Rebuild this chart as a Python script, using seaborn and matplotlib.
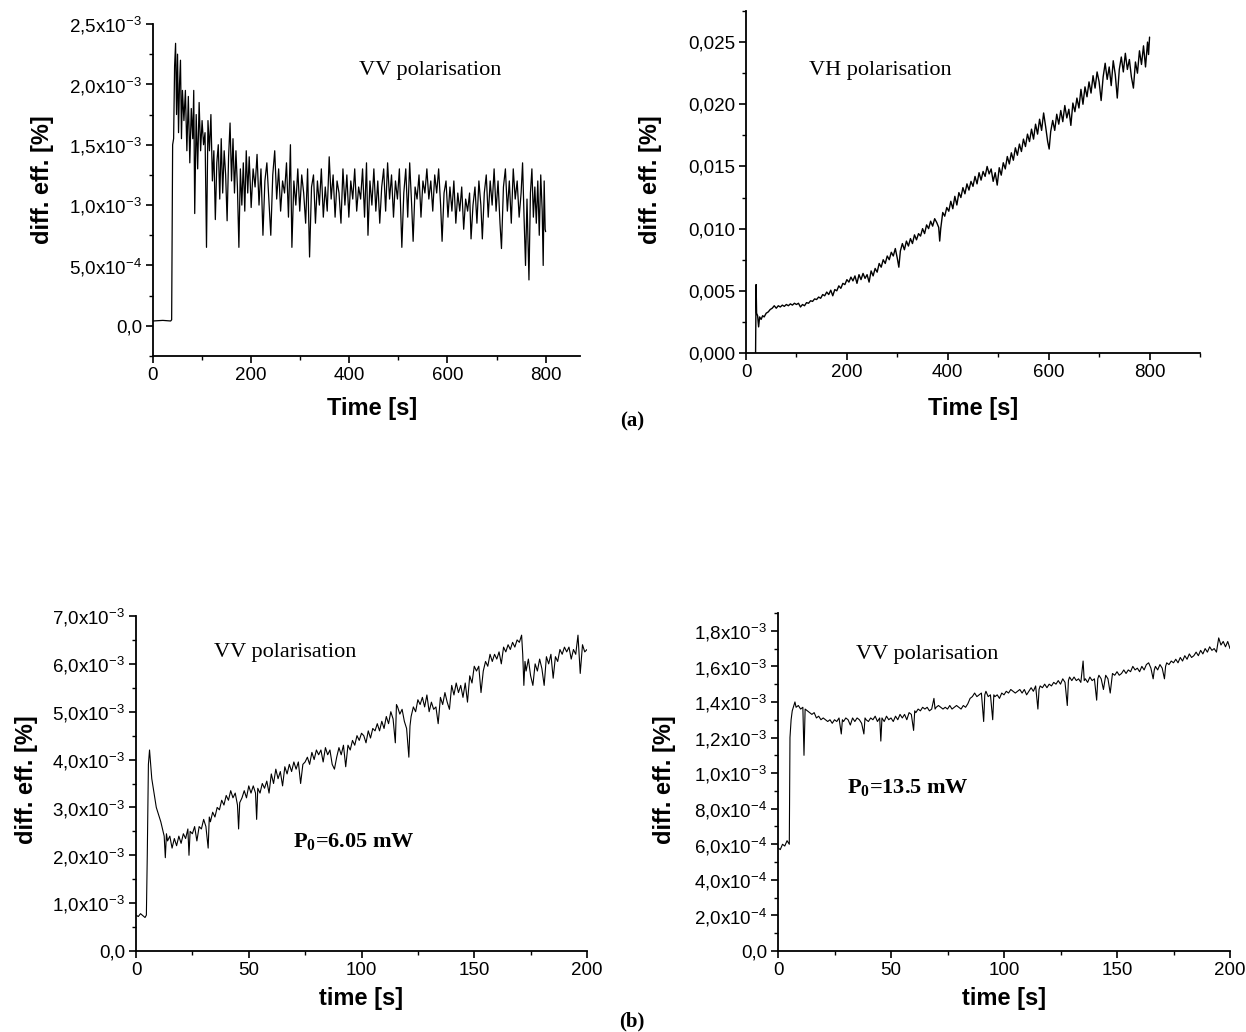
import numpy as np
import matplotlib
matplotlib.use("Agg")
import matplotlib.pyplot as plt
from matplotlib.ticker import MultipleLocator, FuncFormatter
import seaborn as sns

# ---- data (diff. eff. values in units of 1e-3 %) ----

# (a) left: VV polarisation, 0-800 s
t_vv_a = [0, 20, 36, 38, 40, 42, 44, 46, 48, 50, 52, 54, 56, 58, 60, 63, 66, 69, 72, 75,
          78, 81, 83, 85, 88, 91, 94, 97, 100, 103, 106, 109, 112, 115, 118, 121, 124, 127, 130, 133,
          136, 139, 142, 145, 148, 151, 154, 157, 160, 163, 166, 169, 172, 175, 178, 181, 184, 187, 190, 193,
          196, 200, 204, 208, 212, 216, 220, 224, 228, 232, 236, 240, 244, 248, 252, 256, 260, 264, 268, 272,
          276, 280, 283, 287, 291, 295, 299, 303, 307, 311, 315, 319, 323, 327, 331, 335, 339, 343, 347, 351,
          355, 359, 363, 367, 371, 375, 379, 383, 387, 391, 395, 399, 403, 407, 411, 415, 419, 423, 427, 431,
          435, 438, 442, 446, 450, 454, 458, 462, 466, 470, 474, 478, 482, 486, 490, 494, 498, 502, 507, 511,
          515, 519, 523, 527, 530, 534, 538, 542, 546, 550, 554, 558, 562, 566, 570, 574, 578, 582, 586, 589,
          593, 597, 601, 605, 609, 613, 617, 621, 625, 629, 633, 637, 641, 645, 648, 652, 656, 660, 664, 668,
          671, 675, 679, 683, 687, 691, 695, 699, 703, 707, 710, 714, 718, 722, 726, 730, 734, 738, 742, 746,
          750, 753, 756, 759, 762, 766, 769, 772, 775, 778, 781, 784, 787, 790, 793, 795, 797, 799, 800]
d_vv_a = [0.04, 0.045, 0.04, 0.05, 1.5, 1.55, 2.15, 2.34, 1.75, 2.25, 1.6, 2.0, 2.2, 1.55, 1.95, 1.7, 1.95, 1.45, 1.9, 1.35,
          1.8, 1.55, 1.95, 0.93, 1.75, 1.3, 1.85, 1.45, 1.7, 1.5, 1.6, 0.65, 1.7, 1.45, 1.75, 1.2, 1.45, 0.88, 1.35, 1.5,
          1.05, 1.55, 1.1, 1.45, 1.25, 0.87, 1.4, 1.68, 1.2, 1.55, 1.1, 1.45, 1.15, 0.65, 1.3, 1.0, 1.35, 0.95, 1.45, 1.1,
          1.4, 0.98, 1.3, 1.15, 1.42, 1.0, 1.3, 0.75, 1.2, 1.35, 1.05, 0.75, 1.25, 1.45, 1.05, 1.3, 0.95, 1.2, 1.1, 1.35,
          0.9, 1.5, 0.65, 1.2, 1.0, 1.3, 0.95, 1.25, 1.1, 0.85, 1.3, 0.57, 1.15, 1.25, 0.85, 1.2, 1.0, 1.3, 0.9, 1.15,
          0.95, 1.4, 1.05, 1.25, 0.9, 1.2, 1.1, 0.85, 1.3, 1.0, 1.25, 0.9, 1.2, 1.05, 1.3, 0.95, 1.15, 1.05, 1.3, 0.9,
          1.35, 0.75, 1.2, 1.0, 1.3, 0.95, 1.2, 0.85, 1.15, 1.3, 0.95, 1.35, 1.05, 1.25, 0.9, 1.2, 1.05, 1.3, 0.65, 1.1,
          1.3, 0.9, 1.35, 1.0, 0.7, 1.15, 1.05, 1.25, 0.9, 1.2, 1.1, 1.3, 1.05, 1.2, 0.95, 1.25, 1.1, 1.3, 1.0, 0.7,
          1.1, 1.2, 0.9, 1.15, 0.95, 1.2, 0.85, 1.1, 0.95, 1.15, 0.8, 1.05, 0.95, 1.1, 0.72, 1.0, 1.15, 0.85, 1.2, 1.0,
          0.72, 1.1, 1.25, 0.9, 1.2, 1.0, 1.3, 0.95, 1.2, 0.85, 0.64, 1.15, 1.3, 0.95, 1.2, 0.85, 1.3, 1.05, 1.2, 0.9,
          1.1, 1.35, 0.9, 0.5, 1.05, 0.38, 1.1, 1.3, 0.9, 1.15, 0.85, 1.2, 0.75, 1.25, 0.95, 0.5, 1.2, 0.8, 0.78]

# (a) right: VH polarisation, 0-800 s
t_vh_a = [19, 20, 21, 23, 25, 27, 30, 33, 36, 40, 44, 48, 52, 56, 60, 64, 68, 72, 76, 80,
          84, 88, 92, 96, 100, 104, 108, 112, 116, 120, 124, 128, 132, 136, 140, 144, 148, 152, 156, 160,
          164, 168, 172, 176, 180, 184, 188, 192, 196, 200, 204, 208, 212, 216, 220, 224, 228, 232, 236, 240,
          244, 248, 252, 256, 260, 264, 268, 272, 276, 280, 284, 288, 292, 296, 300, 303, 306, 310, 314, 318,
          322, 326, 330, 334, 338, 342, 346, 350, 354, 358, 362, 366, 370, 374, 378, 382, 384, 386, 390, 394,
          398, 402, 406, 410, 414, 418, 422, 426, 430, 434, 438, 442, 446, 450, 454, 458, 462, 466, 470, 474,
          478, 482, 486, 490, 494, 498, 502, 506, 510, 514, 518, 522, 526, 530, 534, 538, 542, 546, 550, 554,
          558, 562, 566, 570, 574, 578, 582, 586, 590, 594, 598, 601, 604, 608, 612, 616, 620, 624, 628, 632,
          636, 640, 644, 648, 652, 656, 660, 664, 668, 672, 676, 680, 684, 688, 692, 696, 700, 704, 708, 712,
          716, 720, 724, 728, 732, 736, 740, 744, 748, 752, 756, 760, 764, 768, 772, 776, 780, 784, 788, 792,
          796, 798, 800]
d_vh_a = [0.0, 5.5, 3.2, 3.0, 2.1, 2.9, 2.7, 3.0, 2.9, 3.2, 3.3, 3.5, 3.6, 3.8, 3.6, 3.8, 3.7, 3.85, 3.75, 3.9,
          3.8, 3.95, 3.85, 4.0, 3.9, 4.0, 3.7, 3.9, 3.8, 4.05, 4.0, 4.2, 4.15, 4.35, 4.3, 4.5, 4.4, 4.7, 4.6, 4.9,
          4.7, 5.05, 4.6, 5.1, 5.0, 5.4, 5.2, 5.6, 5.5, 5.9, 5.7, 6.1, 5.8, 6.2, 5.6, 6.3, 5.9, 6.4, 6.0, 6.3,
          5.7, 6.6, 6.2, 6.8, 6.5, 7.2, 6.9, 7.5, 7.2, 7.8, 7.5, 8.1, 7.8, 8.4, 7.6, 6.9, 8.2, 8.8, 8.3, 9.0,
          8.6, 9.2, 8.8, 9.5, 9.1, 9.6, 9.4, 10.0, 9.6, 10.3, 10.0, 10.6, 10.2, 10.8, 10.5, 10.1, 9.0, 10.0, 11.3, 11.0,
          11.7, 11.4, 12.2, 11.6, 12.6, 11.9, 12.9, 12.5, 13.3, 12.8, 13.6, 13.1, 13.8, 13.4, 14.2, 13.6, 14.5, 13.9, 14.6, 14.2,
          15.0, 14.4, 14.8, 13.8, 14.5, 13.5, 14.9, 14.3, 15.3, 14.8, 15.8, 15.2, 16.1, 15.5, 16.5, 15.9, 16.8, 16.2, 17.2, 16.6,
          17.6, 17.0, 18.0, 17.2, 18.4, 17.6, 18.8, 17.9, 19.3, 18.2, 17.0, 16.4, 17.8, 18.7, 17.9, 19.2, 18.4, 19.5, 18.6, 19.9,
          18.9, 19.6, 18.3, 20.1, 19.4, 20.5, 19.7, 21.2, 20.0, 21.4, 20.6, 21.8, 20.9, 22.3, 21.3, 22.6, 21.8, 20.3, 22.2, 23.3,
          22.0, 23.0, 21.5, 23.5, 22.4, 20.5, 22.8, 23.8, 22.6, 24.1, 22.8, 23.6, 22.2, 21.3, 23.4, 22.5, 24.3, 23.2, 24.7, 23.0,
          25.0, 24.0, 25.4]

# (b) left: VV polarisation, P0 = 6.05 mW, 0-200 s
t_vv_b1 = [0, 1, 2, 3, 4, 4.6, 5, 5.5, 6, 6.5, 7, 8, 9, 10, 11, 12, 12.5, 13, 13.5, 14,
           15, 16, 17, 18, 19, 20, 21, 22, 23, 23.5, 24, 25, 26, 27, 28, 29, 30, 31, 32, 32.5,
           33, 34, 35, 36, 37, 38, 39, 40, 41, 42, 43, 44, 45, 45.5, 46, 47, 48, 49, 50, 51,
           52, 53, 53.5, 54, 55, 56, 57, 58, 59, 60, 61, 62, 63, 64, 65, 66, 67, 68, 69, 70,
           71, 72, 73, 74, 75, 76, 77, 78, 79, 80, 81, 82, 83, 84, 85, 86, 87, 88, 89, 90,
           91, 92, 93, 94, 95, 96, 97, 98, 99, 100, 101, 102, 103, 104, 105, 106, 107, 108, 109, 110,
           111, 112, 113, 114, 115, 115.5, 116, 117, 118, 119, 120, 121, 121.5, 122, 123, 124, 125, 126, 127, 128,
           129, 130, 131, 132, 133, 134, 135, 136, 137, 138, 139, 140, 141, 142, 143, 144, 145, 146, 147, 148,
           149, 150, 151, 152, 153, 154, 155, 156, 157, 158, 159, 160, 161, 162, 163, 164, 165, 166, 167, 168,
           169, 170, 171, 171.5, 172, 172.5, 173, 174, 175, 176, 177, 178, 179, 180, 181, 182, 183, 184, 185, 186,
           187, 188, 189, 190, 191, 192, 193, 194, 195, 196, 197, 198, 199, 200]
d_vv_b1 = [0.75, 0.72, 0.78, 0.74, 0.70, 0.75, 2.0, 3.9, 4.2, 3.9, 3.6, 3.3, 3.0, 2.85, 2.7, 2.5, 2.4, 1.95, 2.45, 2.3,
           2.4, 2.15, 2.35, 2.2, 2.4, 2.25, 2.45, 2.35, 2.55, 2.0, 2.5, 2.45, 2.6, 2.3, 2.6, 2.55, 2.75, 2.6, 2.15, 2.8,
           2.7, 2.9, 2.8, 3.0, 2.95, 3.15, 3.05, 3.25, 3.15, 3.35, 3.2, 3.3, 3.05, 2.55, 3.1, 3.2, 3.35, 3.2, 3.45, 3.3,
           3.45, 3.3, 2.75, 3.4, 3.3, 3.5, 3.4, 3.55, 3.3, 3.7, 3.5, 3.8, 3.6, 3.75, 3.45, 3.85, 3.7, 3.9, 3.75, 3.95,
           3.8, 3.95, 3.5, 3.9, 3.95, 4.05, 3.9, 4.15, 4.0, 4.2, 4.1, 4.2, 3.95, 4.25, 4.1, 4.2, 3.9, 3.8, 4.05, 4.25,
           4.1, 4.3, 3.85, 4.3, 4.2, 4.4, 4.3, 4.5, 4.4, 4.55, 4.5, 4.35, 4.6, 4.45, 4.65, 4.6, 4.75, 4.6, 4.8, 4.65,
           4.9, 4.75, 5.0, 4.85, 4.35, 5.15, 5.1, 4.95, 5.05, 4.8, 4.65, 4.05, 4.7, 4.9, 5.1, 5.0, 5.25, 5.15, 5.3, 5.1,
           5.35, 5.0, 5.2, 5.05, 5.1, 4.75, 5.3, 5.15, 5.4, 5.2, 5.05, 5.55, 5.35, 5.6, 5.4, 5.55, 5.3, 5.6, 5.2, 5.75,
           5.6, 5.95, 5.85, 5.95, 5.4, 5.85, 6.05, 5.95, 6.2, 6.05, 6.2, 6.1, 6.25, 6.0, 6.35, 6.25, 6.4, 6.3, 6.45, 6.35,
           6.5, 6.45, 6.6, 6.2, 5.55, 6.05, 5.85, 6.1, 5.75, 5.55, 6.0, 5.85, 6.1, 5.9, 5.55, 6.15, 6.0, 6.2, 5.7, 6.15,
           6.05, 6.3, 6.2, 6.35, 6.25, 6.35, 6.1, 6.3, 6.2, 6.6, 5.8, 6.4, 6.25, 6.3]

# (b) right: VV polarisation, P0 = 13.5 mW, 0-200 s
t_vv_b2 = [0, 1, 2, 3, 4, 5, 5.3, 5.8, 6.3, 7, 7.5, 8, 9, 10, 11, 11.5, 12, 13, 14, 15,
           16, 17, 18, 19, 20, 21, 22, 23, 24, 25, 26, 27, 28, 28.5, 29, 30, 31, 32, 33, 34,
           35, 36, 37, 38, 38.5, 39, 40, 41, 42, 43, 44, 45, 45.5, 46, 47, 48, 49, 50, 51, 52,
           53, 54, 55, 56, 57, 58, 59, 60, 60.5, 61, 62, 63, 64, 65, 66, 67, 68, 69, 69.5, 70,
           71, 72, 73, 74, 75, 76, 77, 78, 79, 80, 81, 82, 83, 84, 85, 86, 87, 88, 89, 90,
           91, 91.5, 92, 93, 94, 95, 95.5, 96, 97, 98, 99, 100, 101, 102, 103, 104, 105, 106, 107, 108,
           109, 110, 111, 112, 113, 114, 115, 115.5, 116, 117, 118, 119, 120, 121, 122, 123, 124, 125, 126, 127,
           128, 128.5, 129, 130, 131, 132, 133, 134, 135, 135.5, 136, 137, 138, 139, 140, 141, 141.5, 142, 143, 144,
           145, 146, 147, 148, 149, 150, 151, 152, 153, 154, 155, 156, 157, 158, 159, 160, 161, 162, 163, 164,
           165, 166, 166.5, 167, 168, 169, 170, 171, 171.5, 172, 173, 174, 175, 176, 177, 178, 179, 180, 181, 182,
           183, 184, 185, 186, 187, 188, 189, 190, 191, 192, 193, 194, 195, 196, 197, 198, 199, 200]
d_vv_b2 = [0.58, 0.57, 0.60, 0.59, 0.62, 0.60, 1.2, 1.3, 1.35, 1.38, 1.4, 1.37, 1.38, 1.36, 1.37, 1.1, 1.36, 1.35, 1.34, 1.33,
           1.34, 1.31, 1.32, 1.30, 1.31, 1.30, 1.29, 1.30, 1.28, 1.30, 1.29, 1.31, 1.22, 1.30, 1.29, 1.31, 1.30, 1.27, 1.31, 1.29,
           1.31, 1.30, 1.28, 1.22, 1.31, 1.30, 1.29, 1.31, 1.30, 1.32, 1.29, 1.31, 1.18, 1.31, 1.29, 1.32, 1.30, 1.31, 1.29, 1.32,
           1.30, 1.33, 1.31, 1.33, 1.30, 1.34, 1.33, 1.24, 1.35, 1.34, 1.36, 1.35, 1.37, 1.36, 1.37, 1.35, 1.36, 1.42, 1.36, 1.37,
           1.38, 1.37, 1.36, 1.37, 1.36, 1.38, 1.36, 1.37, 1.38, 1.37, 1.36, 1.38, 1.37, 1.39, 1.42, 1.43, 1.45, 1.43, 1.44, 1.45,
           1.29, 1.44, 1.46, 1.43, 1.44, 1.30, 1.44, 1.43, 1.44, 1.42, 1.45, 1.44, 1.46, 1.45, 1.47, 1.46, 1.45, 1.46, 1.47, 1.45,
           1.47, 1.44, 1.46, 1.48, 1.46, 1.49, 1.36, 1.47, 1.49, 1.48, 1.50, 1.48, 1.50, 1.49, 1.51, 1.50, 1.52, 1.50, 1.53, 1.51,
           1.38, 1.52, 1.54, 1.52, 1.54, 1.52, 1.53, 1.51, 1.63, 1.52, 1.53, 1.51, 1.54, 1.52, 1.53, 1.41, 1.53, 1.55, 1.53, 1.47,
           1.55, 1.53, 1.45, 1.56, 1.55, 1.57, 1.55, 1.56, 1.58, 1.56, 1.58, 1.57, 1.60, 1.58, 1.59, 1.57, 1.60, 1.58, 1.61, 1.62,
           1.59, 1.53, 1.58, 1.60, 1.58, 1.61, 1.59, 1.53, 1.60, 1.62, 1.61, 1.63, 1.62, 1.64, 1.62, 1.65, 1.63, 1.66, 1.64, 1.67,
           1.65, 1.66, 1.68, 1.66, 1.69, 1.67, 1.70, 1.68, 1.71, 1.69, 1.70, 1.68, 1.76, 1.72, 1.74, 1.71, 1.74, 1.70]

# ---- style ----
sns.set_style("ticks")
plt.rcParams["font.family"] = ["Liberation Sans", "DejaVu Sans"]
plt.rcParams["mathtext.fontset"] = "custom"
plt.rcParams["mathtext.rm"] = "Liberation Sans"
plt.rcParams["mathtext.it"] = "Liberation Sans:italic"
plt.rcParams["mathtext.bf"] = "Liberation Sans:bold"
for key in ("text.color", "axes.labelcolor", "xtick.color", "ytick.color", "axes.edgecolor"):
    plt.rcParams[key] = "black"

W, H = 1246, 1032
fig = plt.figure(figsize=(W / 100, H / 100), dpi=100)


def box(left, top, right, bottom):
    # pixel box -> figure fraction rect
    return [left / W, 1 - bottom / H, (right - left) / W, (bottom - top) / H]


def sci_fmt(v, pos):
    if abs(v) < 1e-12:
        return "0,0"
    e = int(np.floor(np.log10(abs(v)) + 1e-9))
    m = v / 10 ** e
    return f"{m:.1f}".replace(".", ",") + "x10$^{" + str(e) + "}$"


def dec_fmt(v, pos):
    return f"{v:.3f}".replace(".", ",")


def style_axes(ax, xmaj, ymaj, fmt):
    sns.despine(ax=ax)
    for s in ("left", "bottom"):
        ax.spines[s].set_linewidth(1.3)
        ax.spines[s].set_color("black")
    ax.xaxis.set_major_locator(MultipleLocator(xmaj))
    ax.xaxis.set_minor_locator(MultipleLocator(xmaj / 2))
    ax.yaxis.set_major_locator(MultipleLocator(ymaj))
    ax.yaxis.set_minor_locator(MultipleLocator(ymaj / 2))
    ax.yaxis.set_major_formatter(FuncFormatter(fmt))
    ax.tick_params(which="major", direction="out", length=5, width=1.2,
                   labelsize=13.5, pad=3, colors="black")
    ax.tick_params(which="minor", direction="out", length=3, width=1.0, colors="black")
    ax.set_xlabel("")
    ax.set_ylabel("")


def trace(ax, t, d, lw):
    sns.lineplot(x=np.array(t), y=np.array(d) * 1e-3, ax=ax, color="black",
                 linewidth=lw, estimator=None, sort=False)


ax1 = fig.add_axes(box(153, 24, 580, 356))
trace(ax1, t_vv_a, d_vv_a, 0.9)
ax1.set_xlim(0, 870)
ax1.set_ylim(-2.5e-4, 2.5e-3)
style_axes(ax1, 200, 5e-4, sci_fmt)

ax2 = fig.add_axes(box(746, 11, 1200, 353))
trace(ax2, t_vh_a, d_vh_a, 1.0)
ax2.set_xlim(0, 900)
ax2.set_ylim(0, 0.0275)
style_axes(ax2, 200, 0.005, dec_fmt)

ax3 = fig.add_axes(box(136, 616, 587, 951))
trace(ax3, t_vv_b1, d_vv_b1, 0.8)
ax3.set_xlim(0, 200)
ax3.set_ylim(0, 7e-3)
style_axes(ax3, 50, 1e-3, sci_fmt)

ax4 = fig.add_axes(box(778, 613, 1230, 951))
trace(ax4, t_vv_b2, d_vv_b2, 0.8)
ax4.set_xlim(0, 200)
ax4.set_ylim(0, 1.9e-3)
style_axes(ax4, 50, 2e-4, sci_fmt)


def ftext(x, y, s, **kw):
    fig.text(x / W, 1 - y / H, s, ha="center", va="center", color="black", **kw)


lab = dict(fontsize=17, fontweight="bold", family="Liberation Sans")
ftext(42, 180, "diff. eff. [%]", rotation=90, **lab)
ftext(650, 180, "diff. eff. [%]", rotation=90, **lab)
ftext(27, 780, "diff. eff. [%]", rotation=90, **lab)
ftext(665, 780, "diff. eff. [%]", rotation=90, **lab)
ftext(372, 409, "Time [s]", **lab)
ftext(973, 409, "Time [s]", **lab)
ftext(361, 998, "time [s]", **lab)
ftext(1004, 998, "time [s]", **lab)

serif = dict(family="Liberation Serif", fontsize=16)
ftext(430, 70, "VV polarisation", **serif)
ftext(880, 70, "VH polarisation", **serif)
ftext(285, 652, "VV polarisation", **serif)
ftext(927, 654, "VV polarisation", **serif)

bold_serif = dict(family="Liberation Serif", fontsize=16, fontweight="bold")
plt.rcParams["mathtext.bf"] = "Liberation Serif:bold"
ftext(354, 842, "P$_{\\mathbf{0}}$=6.05 mW", **bold_serif)
ftext(908, 788, "P$_{\\mathbf{0}}$=13.5 mW", **bold_serif)
ftext(632, 421, "(a)", family="Liberation Serif", fontsize=15, fontweight="bold")
ftext(632, 1021, "(b)", family="Liberation Serif", fontsize=15, fontweight="bold")

fig.savefig("out.png", dpi=100, facecolor="white")
